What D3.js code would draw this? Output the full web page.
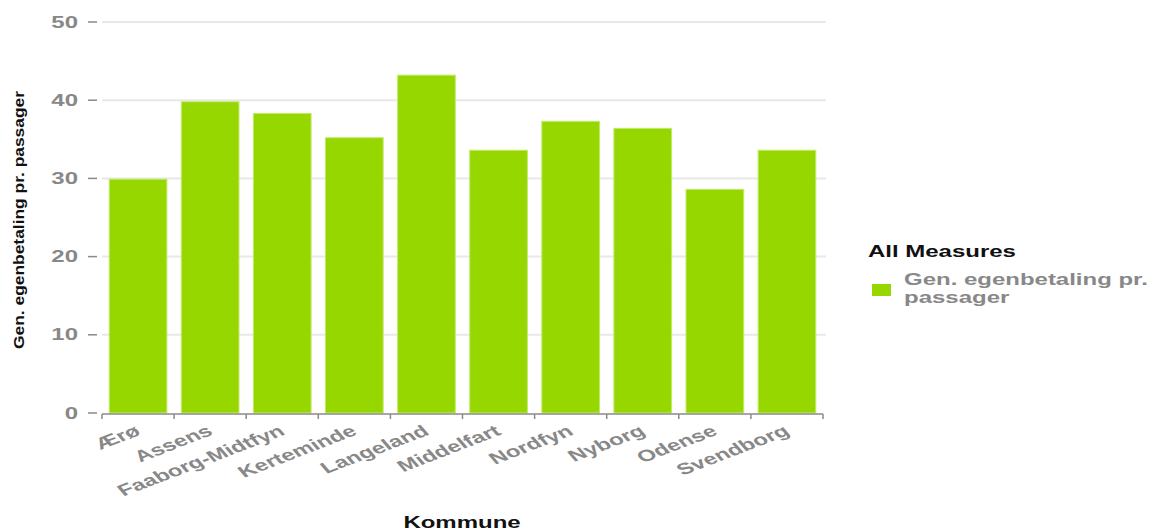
<!DOCTYPE html>
<html>
<head>
<meta charset="utf-8">
<script src="https://cdn.jsdelivr.net/npm/d3@7/dist/d3.min.js"></script>
<style>
  html, body { margin: 0; padding: 0; background: #ffffff; }
  svg { display: block; font-family: "Liberation Sans", Arial, sans-serif; }
</style>
</head>
<body>
<svg id="chart" width="1160" height="532"></svg>
<script>
// Average passenger co-payment per municipality
const categories = ["Ærø", "Assens", "Faaborg-Midtfyn", "Kerteminde", "Langeland",
                    "Middelfart", "Nordfyn", "Nyborg", "Odense", "Svendborg"];
const values = [29.9, 39.8, 38.3, 35.2, 43.2, 33.6, 37.3, 36.4, 28.6, 33.6];
const yTicks = [0, 10, 20, 30, 40, 50];
const seriesName = "Gen. egenbetaling pr. passager";
const legendLines = ["Gen. egenbetaling pr.", "passager"];
const legendTitle = "All Measures";
const xTitle = "Kommune";

const barColor = "#97d700";
const SX = 1.5; // horizontal text stretch

const svg = d3.select("#chart");

const x = d3.scaleBand()
  .domain(categories)
  .range([102, 823])
  .paddingInner(0.2)
  .paddingOuter(0.1);

const y = d3.scaleLinear()
  .domain([0, 50])
  .range([413, 22]);

// Horizontal gridlines
svg.append("g")
  .selectAll("line")
  .data(yTicks.filter(d => d > 0))
  .join("line")
  .attr("x1", 102).attr("x2", 826)
  .attr("y1", d => y(d)).attr("y2", d => y(d))
  .attr("stroke", "#e8e8e8")
  .attr("stroke-width", 2);

// Y axis: dash ticks and bold grey labels
const yAxis = svg.append("g");
yAxis.selectAll("line")
  .data(yTicks)
  .join("line")
  .attr("x1", 88).attr("x2", 97)
  .attr("y1", d => y(d)).attr("y2", d => y(d))
  .attr("stroke", "#8a8a8a")
  .attr("stroke-width", 1.5);
yAxis.selectAll("text")
  .data(yTicks)
  .join("text")
  .attr("transform", d => `translate(78,${y(d) + 5.5}) scale(${SX},1)`)
  .attr("text-anchor", "end")
  .attr("font-size", 16)
  .attr("font-weight", "bold")
  .attr("fill", "#888888")
  .text(d => d);

// Bars
svg.append("g")
  .selectAll("rect")
  .data(categories.map((c, i) => ({ c, v: values[i] })))
  .join("rect")
  .attr("x", d => x(d.c))
  .attr("width", x.bandwidth())
  .attr("y", d => y(d.v))
  .attr("height", d => y(0) - y(d.v))
  .attr("fill", barColor)
  .attr("stroke", "#c2ea6a")
  .attr("stroke-width", 1);

// X axis baseline with ticks at band boundaries
const xAxis = svg.append("g");
const [r0, r1] = x.range();
const boundaries = categories.map(c => x(c) - x.step() * x.paddingInner() / 2);
boundaries[0] = r0;
boundaries.push(r1);
xAxis.append("line")
  .attr("x1", r0).attr("x2", r1)
  .attr("y1", 414).attr("y2", 414)
  .attr("stroke", "#8a8a8a").attr("stroke-width", 1.5);
xAxis.selectAll("line.tick")
  .data(boundaries)
  .join("line")
  .attr("class", "tick")
  .attr("x1", d => d).attr("x2", d => d)
  .attr("y1", 414).attr("y2", 419)
  .attr("stroke", "#8a8a8a").attr("stroke-width", 1.5);
xAxis.selectAll("text")
  .data(categories)
  .join("text")
  .attr("transform", d => `translate(${x(d) + x.bandwidth() / 2 + 4},434) scale(${SX},1) rotate(-30)`)
  .attr("text-anchor", "end")
  .attr("font-size", 16)
  .attr("font-weight", "bold")
  .attr("fill", "#888888")
  .text(d => d);

// Axis titles
svg.append("text")
  .attr("transform", `translate(462,528) scale(${SX},1)`)
  .attr("text-anchor", "middle")
  .attr("font-size", 16)
  .attr("font-weight", "bold")
  .attr("fill", "#111")
  .text(xTitle);

svg.append("text")
  .attr("transform", "translate(24,220) rotate(-90)")
  .attr("text-anchor", "middle")
  .attr("font-size", 15)
  .attr("font-weight", "bold")
  .attr("fill", "#111")
  .attr("textLength", 258)
  .attr("lengthAdjust", "spacingAndGlyphs")
  .text(seriesName);

// Legend
const legend = svg.append("g");
legend.append("text")
  .attr("transform", `translate(868,257) scale(${SX},1)`)
  .attr("font-size", 16)
  .attr("font-weight", "bold")
  .attr("fill", "#111")
  .text(legendTitle);
legend.append("rect")
  .attr("x", 872).attr("y", 284)
  .attr("width", 19).attr("height", 12)
  .attr("fill", barColor);
legend.selectAll("text.item")
  .data(legendLines)
  .join("text")
  .attr("class", "item")
  .attr("transform", (d, i) => `translate(904,${285 + i * 18}) scale(${SX},1)`)
  .attr("font-size", 16)
  .attr("font-weight", "bold")
  .attr("fill", "#888888")
  .text(d => d);
</script>
</body>
</html>
